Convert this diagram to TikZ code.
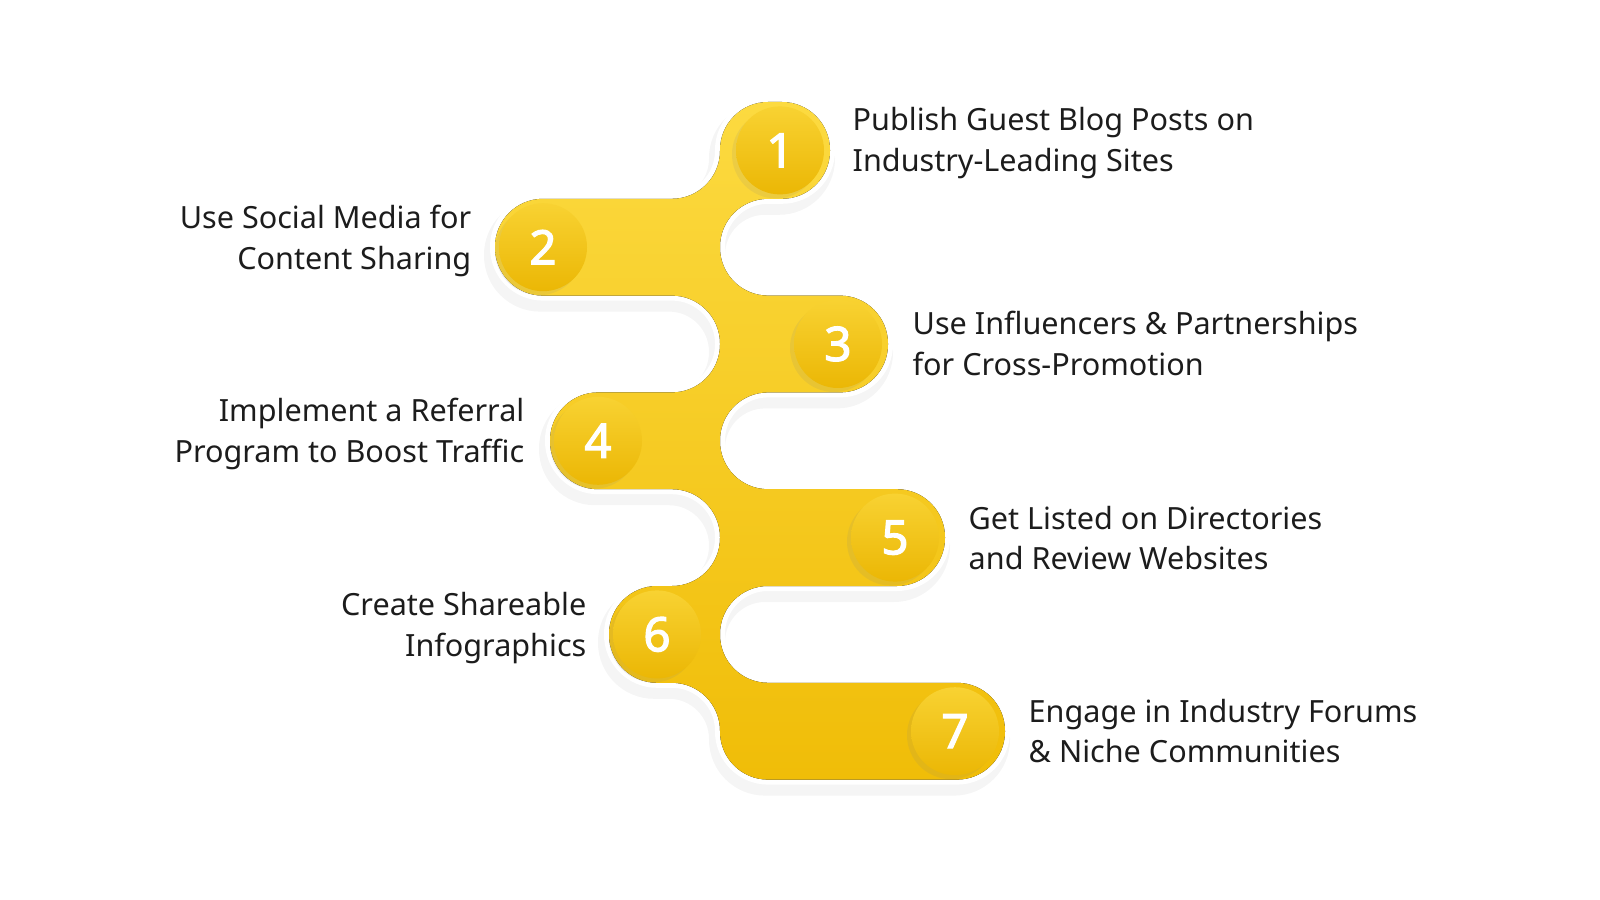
\documentclass[tikz,border=0pt]{standalone}
\usepackage{fontspec}
\setmainfont{Noto Sans}
\newfontfamily\numfont{Noto Sans}[FakeBold=2.5]
\usetikzlibrary{shadows}
\definecolor{snakelight}{HTML}{FCDA40}
\definecolor{snakedark}{HTML}{F0BD08}
\definecolor{disclight}{HTML}{F8D232}
\definecolor{discdark}{HTML}{EBB705}
\definecolor{ink}{HTML}{1C1C1C}

\newcommand{\snakeoutline}{(720,102) -- (830,102) -- (830,198.8) -- (720,198.8) -- (720,295.6) -- (888,295.6) -- (888,392.4) -- (720,392.4) -- (720,489.2) -- (945,489.2) -- (945,586) -- (720,586) -- (720,682.8) -- (1005,682.8) -- (1005,779.6) -- (720,779.6) -- (720,682.8) -- (609,682.8) -- (609,586) -- (720,586) -- (720,489.2) -- (550,489.2) -- (550,392.4) -- (720,392.4) -- (720,295.6) -- (495,295.6) -- (495,198.8) -- (720,198.8) -- cycle}

\tikzset{
  disc/.style={circle, minimum size=8.8mm, inner sep=0pt, top color=disclight, bottom color=discdark,
    text=white, font=\fontsize{13.5}{14}\selectfont\numfont,
    drop shadow={opacity=0.12, shadow xshift=-0.4mm, shadow yshift=-0.4mm}},
  lbl/.style={text=ink, font=\fontsize{8.7}{11.6}\selectfont, inner sep=0pt}
}

\begin{document}
\begin{tikzpicture}[x=0.1mm, y=-0.1mm]
    %% Snake band with white rim and soft shadow
    \filldraw[black!6, draw=black!4, line width=1.6mm, rounded corners=4.8mm, shift={(-3,8)}] \snakeoutline;
    \filldraw[white, line width=1mm, rounded corners=4.8mm] \snakeoutline;
    \fill[top color=snakelight, bottom color=snakedark, rounded corners=4.8mm] \snakeoutline;

    %% Number discs
    \node[disc] (n1) at (780,150.4) {1};
    \node[disc] (n2) at (543,247.2) {2};
    \node[disc] (n3) at (838,344) {3};
    \node[disc] (n4) at (598,440.8) {4};
    \node[disc] (n5) at (895,537.6) {5};
    \node[disc] (n6) at (657,634.4) {6};
    \node[disc] (n7) at (955,731.2) {7};

    %% Labels
    \node[lbl, anchor=west, align=left] (l1) at (852,143) {Publish Guest Blog Posts on\\Industry-Leading Sites};
    \node[lbl, anchor=east, align=right] (l2) at (472,241) {Use Social Media for\\Content Sharing};
    \node[lbl, anchor=west, align=left] (l3) at (912,343.5) {Use Influencers \& Partnerships\\for Cross-Promotion};
    \node[lbl, anchor=east, align=right] (l4) at (525,434) {Implement a Referral\\Program to Boost Traffic};
    \node[lbl, anchor=west, align=left] (l5) at (968,538) {Get Listed on Directories\\and Review Websites};
    \node[lbl, anchor=east, align=right] (l6) at (587,628) {Create Shareable\\Infographics};
    \node[lbl, anchor=west, align=left] (l7) at (1028,731) {Engage in Industry Forums\\\& Niche Communities};

    \pgfresetboundingbox
    \useasboundingbox (0,0) rectangle (1600,900);
\end{tikzpicture}
\end{document}
